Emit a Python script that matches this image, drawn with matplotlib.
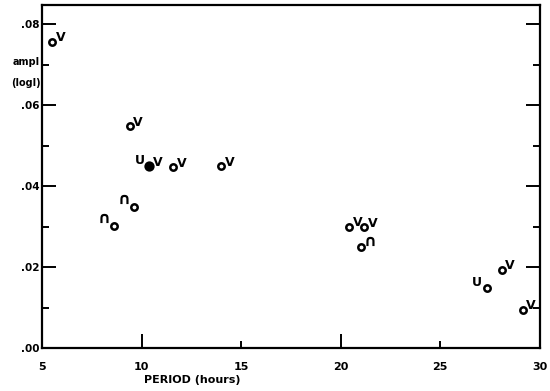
import matplotlib
matplotlib.use("Agg")
import matplotlib.pyplot as plt

# ---- data ----
periods = [5.5, 9.4, 10.4, 11.6, 14.0, 9.6, 8.6, 20.45, 21.2, 21.05, 27.35, 28.1, 29.15]
amps = [0.0757, 0.0548, 0.0449, 0.0447, 0.0449, 0.0349, 0.0302,
        0.0300, 0.0298, 0.0250, 0.0148, 0.0193, 0.0094]
left_letters = ["", "", "U", "", "", "∩", "∩", "", "", "", "U", "", ""]
right_letters = ["V", "V", "V", "V", "V", "", "", "V", "V", "∩", "", "V", "V"]
filled = [False, False, True, False, False, False, False,
          False, False, False, False, False, False]

x_major = [10, 20]
x_major_labels = ["10", "20"]
x_minor = [5, 15, 25, 30]
x_minor_labels = ["5", "15", "25", "30"]
y_major = [0.00, 0.02, 0.04, 0.06, 0.08]
y_major_labels = [".00", ".02", ".04", ".06", ".08"]
y_minor = [0.01, 0.03, 0.05, 0.07]

FONT = dict(family="DejaVu Sans", weight="bold")

fig = plt.figure(figsize=(5.5, 3.91), dpi=100)
ax = fig.add_axes([42 / 550, 1 - 348 / 391, 497.5 / 550, 343 / 391])
ax.set_xlim(5, 30)
ax.set_ylim(0, 0.0848)

for s in ax.spines.values():
    s.set_linewidth(1.6)

for p, a, l, r, f in zip(periods, amps, left_letters, right_letters, filled):
    ax.plot([p], [a], marker="o", ms=4.6 if not f else 5.6,
            mfc="black" if f else "white", mec="black", mew=1.8, ls="none",
            zorder=3)
    for txt, dx, dy in ((r, 6.0, 3.0), (l, -7.0, 4.0)):
        if not txt:
            continue
        size = 11.5 if txt == "∩" else 9
        ax.annotate(txt, (p, a), xytext=(dx, dy + (1.0 if txt == "∩" else 0)),
                    textcoords="offset points",
                    ha="center", va="center", fontsize=size, **FONT)

ax.set_xticks(x_major)
ax.set_xticklabels(x_major_labels)
ax.set_xticks(x_minor, minor=True)
ax.set_xticklabels(x_minor_labels, minor=True)
ax.set_yticks(y_major)
ax.set_yticklabels(y_major_labels)
ax.set_yticks(y_minor, minor=True)

ax.tick_params(axis="x", which="major", direction="in", length=10, width=1.4,
               pad=10, labelsize=8)
ax.tick_params(axis="x", which="minor", direction="in", length=5, width=1.4,
               pad=10, labelsize=8)
ax.tick_params(axis="y", which="major", direction="in", length=10, width=1.4,
               pad=1.5, labelsize=7.5, right=True)
ax.tick_params(axis="y", which="minor", direction="in", length=5, width=1.4,
               right=True)
for lab in ax.get_xticklabels(which="both") + ax.get_yticklabels():
    lab.set_fontweight("bold")

fig.text(40 / 550, 1 - 62 / 391, "ampl", ha="right", va="center", fontsize=7, **FONT)
fig.text(41 / 550, 1 - 83 / 391, "(logI)", ha="right", va="center", fontsize=7, **FONT)
fig.text(192 / 550, 1 - 380 / 391, "PERIOD (hours)", ha="center", va="center",
         fontsize=8, **FONT)

fig.savefig("out.png", dpi=100)
